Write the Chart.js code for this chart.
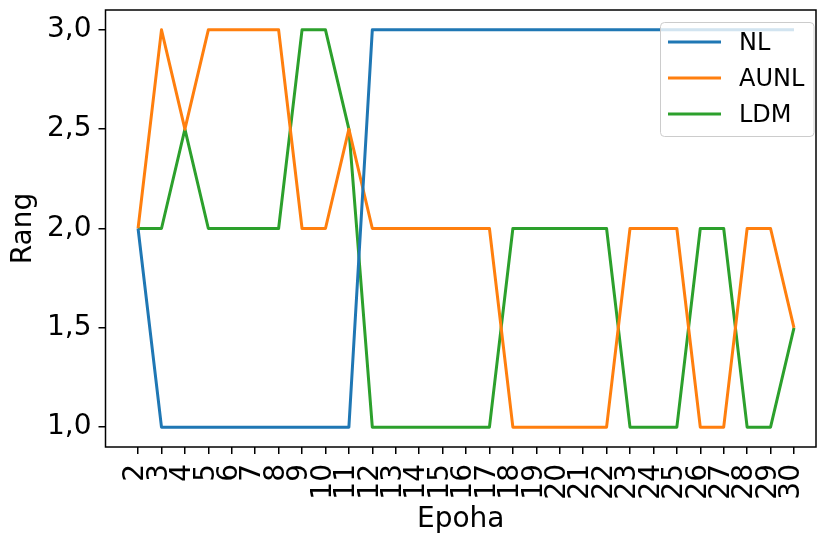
<!DOCTYPE html>
<html>
<head>
<meta charset="utf-8">
<script src="https://cdn.jsdelivr.net/npm/chart.js@4/dist/chart.umd.min.js"></script>
<style>
  html, body { margin: 0; padding: 0; background: #fff; }
  canvas { display: block; }
</style>
</head>
<body>
<canvas id="c" width="817" height="534"></canvas>
<script>
const epochs = [2,3,4,5,6,7,8,9,10,11,12,13,14,15,16,17,18,19,20,21,22,23,24,25,26,27,28,29,30];
const nlValues   = [2,1,1,1,1,1,1,1,1,1,3,3,3,3,3,3,3,3,3,3,3,3,3,3,3,3,3,3,3];
const aunlValues = [2,3,2.5,3,3,3,3,2,2,2.5,2,2,2,2,2,2,1,1,1,1,1,2,2,2,1,1,2,2,1.5];
const ldmValues  = [2,2,2.5,2,2,2,2,3,3,2.5,1,1,1,1,1,1,2,2,2,2,2,1,1,1,2,2,1,1,1.5];
const yTicks = [1.0, 1.5, 2.0, 2.5, 3.0];
const seriesNames = ['NL', 'AUNL', 'LDM'];
const seriesColors = ['#1f77b4', '#ff7f0e', '#2ca02c'];

const FONT = "'DejaVu Sans', sans-serif";

function toPoints(vals) {
  return vals.map((v, i) => ({ x: epochs[i], y: v }));
}

const frameAndLegend = {
  id: 'frameAndLegend',
  afterDatasetsDraw(chart) {
    const { ctx, chartArea: a } = chart;
    ctx.save();
    ctx.strokeStyle = '#000';
    ctx.lineWidth = 1.5;
    ctx.strokeRect(a.left, a.top, a.right - a.left, a.bottom - a.top);
    ctx.restore();
  },
  afterDraw(chart) {
    const { ctx } = chart;
    ctx.save();
    const bx = 660.5, by = 22.5, bw = 153.5, bh = 114, r = 4;
    ctx.beginPath();
    ctx.moveTo(bx + r, by);
    ctx.lineTo(bx + bw - r, by);
    ctx.arcTo(bx + bw, by, bx + bw, by + r, r);
    ctx.lineTo(bx + bw, by + bh - r);
    ctx.arcTo(bx + bw, by + bh, bx + bw - r, by + bh, r);
    ctx.lineTo(bx + r, by + bh);
    ctx.arcTo(bx, by + bh, bx, by + bh - r, r);
    ctx.lineTo(bx, by + r);
    ctx.arcTo(bx, by, bx + r, by, r);
    ctx.closePath();
    ctx.fillStyle = 'rgba(255,255,255,0.8)';
    ctx.fill();
    ctx.strokeStyle = '#cccccc';
    ctx.lineWidth = 1;
    ctx.stroke();
    chart.data.datasets.forEach((ds, i) => {
      const y = 42 + i * 36;
      ctx.beginPath();
      ctx.strokeStyle = ds.borderColor;
      ctx.lineWidth = 3;
      ctx.moveTo(668, y);
      ctx.lineTo(721, y);
      ctx.stroke();
      ctx.fillStyle = '#000';
      ctx.font = '24px ' + FONT;
      ctx.textAlign = 'left';
      ctx.textBaseline = 'middle';
      ctx.fillText(ds.label, 739, y + 1.5);
    });
    ctx.restore();
  }
};

new Chart(document.getElementById('c'), {
  type: 'line',
  data: {
    datasets: [
      { label: seriesNames[0], data: toPoints(nlValues), borderColor: seriesColors[0] },
      { label: seriesNames[1], data: toPoints(aunlValues), borderColor: seriesColors[1] },
      { label: seriesNames[2], data: toPoints(ldmValues), borderColor: seriesColors[2] }
    ].map(d => Object.assign(d, {
      borderWidth: 3, pointRadius: 0, tension: 0, fill: false,
      borderJoinStyle: 'round', borderCapStyle: 'butt', backgroundColor: d.borderColor
    }))
  },
  options: {
    responsive: false,
    animation: false,
    devicePixelRatio: 1,
    layout: { padding: { top: 10, right: 1, left: 0, bottom: 0 } },
    plugins: { legend: { display: false }, tooltip: { enabled: false } },
    scales: {
      x: {
        type: 'linear',
        min: 0.61,
        max: 30.94,
        afterBuildTicks(scale) { scale.ticks = epochs.map(v => ({ value: v })); },
        afterFit(scale) {
          scale.height = 87;
          scale.paddingLeft = 0; scale.paddingRight = 0;
        },
        border: { display: false },
        grid: { drawOnChartArea: false, drawTicks: true, tickLength: 7, color: '#000', lineWidth: 1.5 },
        ticks: {
          autoSkip: false, minRotation: 90, maxRotation: 90, padding: 10, labelOffset: -2,
          color: '#000', font: { family: FONT, size: 28 },
          callback: v => String(v)
        },
        title: {
          display: true, text: 'Epoha', color: '#000',
          font: { family: FONT, size: 28, lineHeight: 1 }, padding: { top: 0, bottom: 0 }
        }
      },
      y: {
        type: 'linear',
        min: 0.9,
        max: 3.1,
        afterBuildTicks(scale) { scale.ticks = yTicks.map(v => ({ value: v })); },
        afterFit(scale) {
          scale.width = 105.5;
          scale.paddingTop = 0; scale.paddingBottom = 0;
        },
        border: { display: false },
        grid: { drawOnChartArea: false, drawTicks: true, tickLength: 7, color: '#000', lineWidth: 1.5 },
        ticks: {
          padding: 7, color: '#000', font: { family: FONT, size: 28 },
          callback: v => v.toFixed(1).replace('.', ',')
        },
        title: {
          display: true, text: 'Rang', color: '#000',
          font: { family: FONT, size: 28, lineHeight: 1 }, padding: { top: 9.8, bottom: 0 }
        }
      }
    }
  },
  plugins: [frameAndLegend]
});
</script>
</body>
</html>
